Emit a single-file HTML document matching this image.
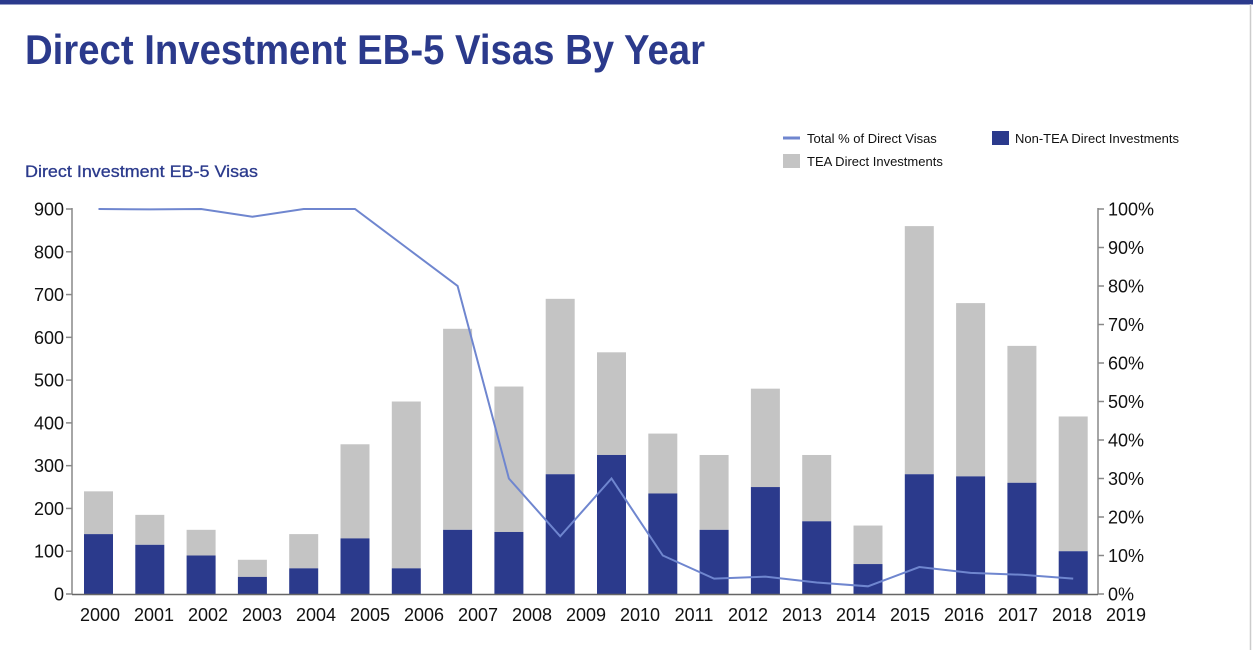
<!DOCTYPE html>
<html><head><meta charset="utf-8"><style>
html,body{margin:0;padding:0;background:#fff;width:1253px;height:650px;overflow:hidden}
svg text{font-family:"Liberation Sans",Arial,sans-serif}
</style></head><body>
<svg width="1253" height="650" viewBox="0 0 1253 650" xmlns="http://www.w3.org/2000/svg">
<rect x="0" y="0" width="1253" height="4.5" fill="#2B3A8C"/>
<line x1="1250.5" y1="4" x2="1250.5" y2="650" stroke="#ccc" stroke-width="1.5"/>
<text x="25" y="64" font-size="42" font-weight="bold" fill="#2B3A8C" textLength="680" lengthAdjust="spacingAndGlyphs">Direct Investment EB-5 Visas By Year</text>
<text x="25" y="177" font-size="17" fill="#2B3A8C" stroke="#2B3A8C" stroke-width="0.3" textLength="233" lengthAdjust="spacingAndGlyphs">Direct Investment EB-5 Visas</text>
<line x1="783" y1="138" x2="800" y2="138" stroke="#6F86CF" stroke-width="3"/>
<text x="807" y="143" font-size="13" fill="#111">Total % of Direct Visas</text>
<rect x="992" y="131" width="17" height="14" fill="#2B3A8C"/>
<text x="1015" y="143" font-size="13" fill="#111">Non-TEA Direct Investments</text>
<rect x="783" y="154" width="17" height="14" fill="#C4C4C4"/>
<text x="807" y="166" font-size="13" fill="#111">TEA Direct Investments</text>
<g id="chart"></g>
</svg>
<script>
var g=document.getElementById('chart'),h='';
var tot=[240,185,150,80,140,350,450,620,485,690,565,375,325,480,325,160,860,680,580,415];
var dk=[140,115,90,40,60,130,60,150,145,280,325,235,150,250,170,70,280,275,260,100];
var pc=[100,99.9,100,98,100,100,90,80,30,15,30,10,4,4.5,3,2,7,5.5,5,4];
function y(v){return 594-v*385/900}
function yp(v){return 594-v*3.85}
for(var i=0;i<20;i++){var x=84+i*51.3;
h+='<rect x="'+x+'" y="'+y(tot[i])+'" width="29" height="'+(y(dk[i])-y(tot[i]))+'" fill="#C4C4C4"/>';
h+='<rect x="'+x+'" y="'+y(dk[i])+'" width="29" height="'+(594-y(dk[i]))+'" fill="#2B3A8C"/>';}
var pts=pc.map(function(v,i){return (98.5+i*51.3)+','+yp(v)}).join(' ');
h+='<polyline points="'+pts+'" fill="none" stroke="#6F86CF" stroke-width="2"/>';
h+='<line x1="72" y1="208" x2="72" y2="594" stroke="#888" stroke-width="1.5"/>';
h+='<line x1="1098" y1="208" x2="1098" y2="594" stroke="#888" stroke-width="1.5"/>';
h+='<line x1="72" y1="594.5" x2="1098" y2="594.5" stroke="#666" stroke-width="1.5"/>';
for(var k=0;k<=9;k++){var yy=y(k*100);
h+='<line x1="66" y1="'+yy+'" x2="72" y2="'+yy+'" stroke="#888" stroke-width="1.5"/>';
h+='<text x="64" y="'+(yy+6.5)+'" font-size="18" text-anchor="end" fill="#111">'+(k*100)+'</text>';}
for(var k=0;k<=10;k++){var yy=yp(k*10);
h+='<line x1="1098" y1="'+yy+'" x2="1104" y2="'+yy+'" stroke="#888" stroke-width="1.5"/>';
h+='<text x="1108" y="'+(yy+6.5)+'" font-size="18" fill="#111">'+(k*10)+'%</text>';}
for(var i=0;i<20;i++){h+='<text x="'+(100+i*54)+'" y="621" font-size="18" text-anchor="middle" fill="#111">'+(2000+i)+'</text>';}
g.innerHTML=h;
</script>
</body></html>
